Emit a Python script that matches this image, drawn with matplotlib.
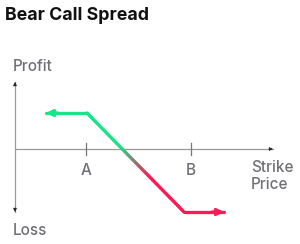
import numpy as np
import matplotlib.pyplot as plt
from matplotlib.collections import LineCollection
from matplotlib.colors import to_rgb

# payoff diagram data (price units, profit units)
strike_a = 7.1
strike_b = 17.6
payoff_x = [3.1, 7.2, 16.9, 20.9]
payoff_y = [3.6, 3.6, -6.3, -6.3]
axis_x_end = 25.8
axis_y_top = 6.7
axis_y_bottom = -6.3
fade_start, fade_end = 10.5, 13.5

GREEN = '#1de28a'
RED = '#ff1a56'
GRAY = '#6f6f75'

fig = plt.figure(figsize=(3.0, 2.44), dpi=100)
ax = fig.add_axes([0, 0, 1, 1])
ax.set_xlim(-1.5, 28.5)
ax.set_ylim(-9.5, 14.9)
ax.axis('off')

# axes arrows
ax.plot([0, 0], [axis_y_bottom, axis_y_top], color='#9a9a9a', lw=0.9, zorder=1)
ax.plot([0, axis_x_end], [0, 0], color='#9a9a9a', lw=0.9, zorder=1)
for (x0, y0, x1, y1) in [(0, axis_y_top - 0.4, 0, axis_y_top),
                         (0, axis_y_bottom + 0.4, 0, axis_y_bottom),
                         (axis_x_end - 0.4, 0, axis_x_end, 0)]:
    ax.annotate('', xy=(x1, y1), xytext=(x0, y0),
                arrowprops=dict(arrowstyle='-|>', color='#222222', lw=0.6,
                                mutation_scale=5, shrinkA=0, shrinkB=0))

lab_kw = dict(color=GRAY, fontsize=11, family='Inter', fontweight='medium')

# strike ticks
for s, lab in [(strike_a, 'A'), (strike_b, 'B')]:
    ax.plot([s, s], [-0.6, 0.6], color='#777777', lw=0.9, zorder=1)
    ax.text(s, -2.6, lab, ha='center', va='baseline', **lab_kw)

# payoff line with colour fade
xs = np.concatenate([np.linspace(payoff_x[i], payoff_x[i + 1], 60)
                     for i in range(len(payoff_x) - 1)])
ys = np.concatenate([np.linspace(payoff_y[i], payoff_y[i + 1], 60)
                     for i in range(len(payoff_y) - 1)])
pts = np.column_stack([xs, ys]).reshape(-1, 1, 2)
segs = np.concatenate([pts[:-1], pts[1:]], axis=1)
mid = (xs[:-1] + xs[1:]) / 2
t = np.clip((mid - fade_start) / (fade_end - fade_start), 0, 1)[:, None]
cols = (1 - t) * np.array(to_rgb(GREEN)) + t * np.array(to_rgb(RED))
lc = LineCollection(segs, colors=cols, linewidths=2.3, capstyle='round',
                    joinstyle='miter', zorder=3)
ax.add_collection(lc)

ax.annotate('', xy=(payoff_x[0], payoff_y[0]), xytext=(payoff_x[0] + 1.2, payoff_y[0]),
            arrowprops=dict(arrowstyle='-|>', color=GREEN, lw=2.3,
                            mutation_scale=9, shrinkA=0, shrinkB=0), zorder=4)
ax.annotate('', xy=(payoff_x[-1], payoff_y[-1]), xytext=(payoff_x[-1] - 1.2, payoff_y[-1]),
            arrowprops=dict(arrowstyle='-|>', color=RED, lw=2.3,
                            mutation_scale=9, shrinkA=0, shrinkB=0), zorder=4)

# labels
ax.text(-0.2, 7.8, 'Profit', ha='left', va='baseline', **lab_kw)
ax.text(-0.2, -8.6, 'Loss', ha='left', va='baseline', **lab_kw)
ax.text(23.6, -2.3, 'Strike', ha='left', va='baseline', **lab_kw)
ax.text(23.6, -4.0, 'Price', ha='left', va='baseline', **lab_kw)

fig.text(5 / 300, 1 - 20.5 / 244, 'Bear Call Spread', ha='left', va='baseline',
         fontsize=12.8, fontweight='bold', family='Inter', color='#111111')

fig.savefig('out.png', dpi=100)
